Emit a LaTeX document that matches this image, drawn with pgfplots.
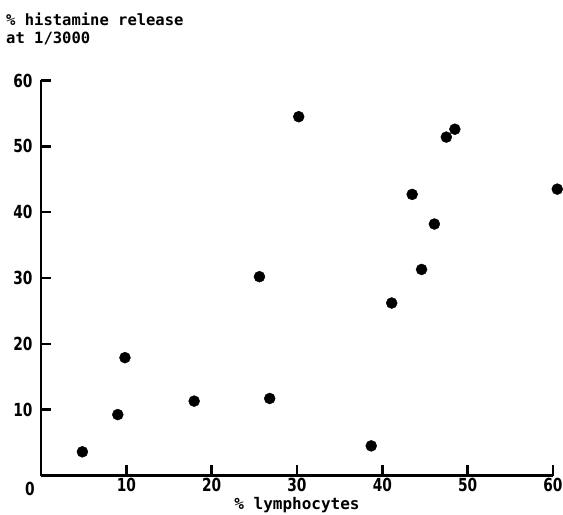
\documentclass[border=0pt]{standalone}
\usepackage{fontspec}
\setmainfont{DejaVu Sans Mono}
\newfontfamily\tickfont[FakeStretch=0.85]{DejaVu Sans Condensed}
\usepackage{pgfplots}
\pgfplotsset{compat=1.18}

\begin{document}
\begin{tikzpicture}
  \path[use as bounding box] (-41bp,-39.5bp) rectangle (522bp,475.5bp);
  \begin{axis}[
      at={(0,0)}, anchor=south west,
      scale only axis,
      width=512bp, height=395bp,
      xmin=0, xmax=60, ymin=0, ymax=60,
      axis x line=bottom, axis y line=left,
      axis line style={-, line width=2.8bp},
      xtick={10,20,...,60}, ytick={10,20,...,60},
      tick align=inside, major tick length=10bp,
      tick style={line width=2.4bp, black},
      tick label style={font=\tickfont\bfseries\fontsize{18bp}{20bp}\selectfont},
      /pgf/number format/assume math mode=true,
      yticklabel style={xshift=-5bp},
      xticklabel style={yshift=1bp},
      xlabel={\% lymphocytes},
      xlabel style={at={(axis description cs:0.5,0)}, anchor=north, inner sep=0pt,
        yshift=-21.5bp, font=\bfseries\fontsize{16bp}{18bp}\selectfont},
      clip=false,
    ]
    % taux de libération vs. lymphocytes
    \addplot[only marks, mark=*, mark size=5.5bp, black] coordinates {
      (4.85,3.6) (9.0,9.25) (9.84,17.9) (17.95,11.3) (25.6,30.2)
      (26.8,11.7) (30.2,54.5) (38.7,4.5) (41.1,26.2) (43.5,42.7)
      (44.6,31.3) (46.1,38.2) (47.5,51.4) (48.5,52.6) (60.5,43.5)
    };
    \node[anchor=north east, inner sep=0pt, xshift=-6bp, yshift=-6.5bp,
      font=\tickfont\bfseries\fontsize{18bp}{20bp}\selectfont] at (axis cs:0,0) {0};
  \end{axis}
  \node[anchor=north west, inner sep=0pt, align=left,
    font=\bfseries\fontsize{15.5bp}{18bp}\selectfont] at (-35bp,462.8bp)
    {\% histamine release\\at 1/3000};
\end{tikzpicture}
\end{document}
